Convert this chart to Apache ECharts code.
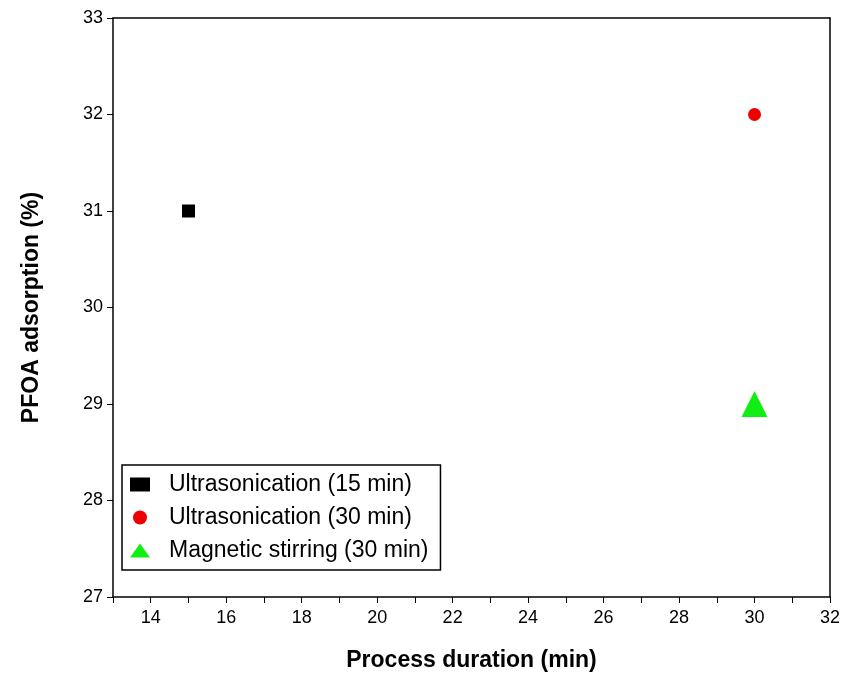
<!DOCTYPE html><html><head><meta charset="utf-8"><script src="https://cdn.jsdelivr.net/npm/echarts@6/dist/echarts.min.js"></script></head><body style="margin:0"><div id="c" style="width:850px;height:694px"></div><script>
const seriesNames=["Ultrasonication (15 min)","Ultrasonication (30 min)","Magnetic stirring (30 min)"];
const s1=[[15,31]],s2=[[30,32]],s3=[[30,29]];
const xTicks=[14,16,18,20,22,24,26,28,30,32];
const ch=echarts.init(document.getElementById('c'));
const f="Liberation Sans, Arial, sans-serif";
const ax={axisLine:{show:true,onZero:false,lineStyle:{color:'#000',width:1.5}},axisTick:{show:true,inside:false,length:6,lineStyle:{color:'#000'}},minorTick:{show:false},splitLine:{show:false},axisLabel:{color:'#000',fontSize:18,fontFamily:f}};
const noLab={...ax,axisLabel:{show:false},axisTick:{show:false}};
ch.setOption({animation:false,
grid:{left:113,right:20,top:18,bottom:97},
legend:{left:122,top:465,orient:'vertical',itemGap:10,itemWidth:20,itemHeight:14,borderColor:'#000',borderWidth:1.5,padding:[8,12,8,8],textStyle:{fontSize:23,fontFamily:f,color:'#000',padding:[0,0,0,14]},data:seriesNames},
xAxis:[{type:'value',min:13,max:32,interval:1,...ax,axisLabel:{...ax.axisLabel,margin:12,formatter:v=>xTicks.includes(v)?v:''},name:'Process duration (min)',nameLocation:'middle',nameGap:52,nameTextStyle:{fontSize:23,fontWeight:'bold',fontFamily:f,color:'#000'}},
{type:'value',position:'top',min:13,max:32,...noLab}],
yAxis:[{type:'value',min:27,max:33,interval:1,...ax,axisLabel:{...ax.axisLabel,margin:10},name:'PFOA adsorption (%)',nameLocation:'middle',nameGap:70,nameTextStyle:{fontSize:23,fontWeight:'bold',fontFamily:f,color:'#000'}},
{type:'value',position:'right',min:27,max:33,...noLab}],
series:[
{name:seriesNames[0],type:'scatter',symbol:'rect',symbolSize:13,itemStyle:{color:'#000',opacity:1},data:s1},
{name:seriesNames[1],type:'scatter',symbol:'circle',symbolSize:13,itemStyle:{color:'#e00',opacity:1},data:s2},
{name:seriesNames[2],type:'scatter',symbol:'triangle',symbolSize:26,itemStyle:{color:'#1e1',opacity:1},data:s3}]});
</script></body></html>
